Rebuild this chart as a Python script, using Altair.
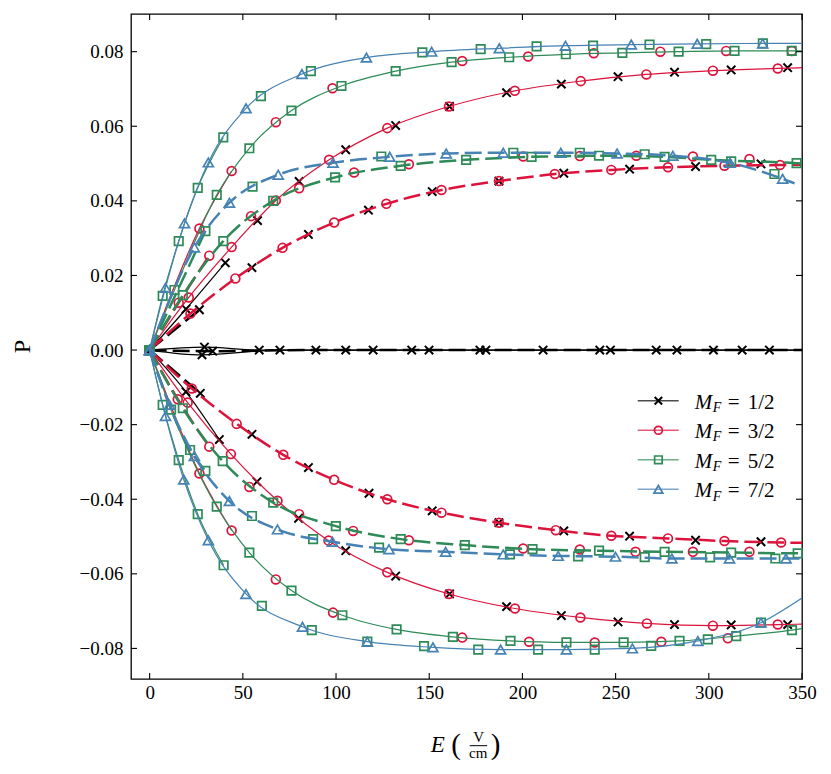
import altair as alt
import pandas as pd

# ---------------- data ----------------
MF_LABELS = ["1/2", "3/2", "5/2", "7/2"]
COLORS = ["#000000", "#DC143C", "#2E8B57", "#4682B4"]
X_TICKS = [0, 50, 100, 150, 200, 250, 300, 350]
Y_TICKS = [-0.08, -0.06, -0.04, -0.02, 0.0, 0.02, 0.04, 0.06, 0.08]

# Each list holds (E, P) marker positions; the LAST pair is only the end of the
# line at the right edge (no marker drawn there).

# M_F = 1/2 (black)
B_S1P = [(0, 0), (19.5, 0.0110), (40.6, 0.0234), (57.9, 0.0347), (80.2, 0.0452), (105.2, 0.0537),
         (132, 0.0602), (160.9, 0.0653), (191.5, 0.0690), (220.9, 0.0713), (251.3, 0.0733),
         (281.6, 0.0745), (312, 0.0751), (342.3, 0.0757), (350, 0.0758)]
B_S1N = [(0, 0), (19.5, -0.0112), (37.4, -0.0240), (57.6, -0.0353), (79.9, -0.0451), (105.2, -0.0538),
         (132, -0.0606), (160.9, -0.0654), (191.5, -0.0688), (220.9, -0.0712), (251.3, -0.0729),
         (281.6, -0.0736), (312, -0.0737), (342.3, -0.0736), (350, -0.0736)]
B_D1P = [(0, 0), (26.7, 0.0108), (54.9, 0.0221), (85.2, 0.0310), (117.4, 0.0375), (151.6, 0.0425),
         (187.4, 0.0453), (222.2, 0.0474), (257.5, 0.0485), (292.9, 0.0492), (328, 0.0499), (350, 0.0500)]
B_D1N = [(0, 0), (27.2, -0.0116), (54.9, -0.0226), (85.2, -0.0315), (117.7, -0.0384), (151.6, -0.0431),
         (187.4, -0.0463), (222.2, -0.0485), (257.5, -0.0499), (292.9, -0.0510), (328, -0.0514), (350, -0.0517)]
B_Z1 = [(0, 0), (29.4, 0.0008), (58.8, 0), (105.2, 0), (149.9, 0), (211.1, 0), (271.8, 0), (317.9, 0), (350, 0)]
B_Z2 = [(0, 0), (28.1, -0.0013), (69.9, 0), (119.9, 0), (177.2, 0), (241.5, 0), (282.9, 0), (332.5, 0), (350, 0)]
B_Z3 = [(0, 0), (33.8, -0.0003), (89.2, 0), (140.6, 0), (180.4, 0), (247.2, 0), (302.5, 0), (350, 0)]

# M_F = 3/2 (red)
R_S1P = [(0, 0), (21, 0.0141), (44, 0.0276), (67.7, 0.0401), (96.3, 0.0510), (127.5, 0.0595),
         (160.6, 0.0653), (195.9, 0.0695), (231.3, 0.0721), (266.5, 0.0739), (302.2, 0.0749),
         (337, 0.0755), (350, 0.0757)]
R_S1N = [(0, 0), (20.4, -0.0141), (43.6, -0.0279), (68.6, -0.0404), (96, -0.0511), (127.5, -0.0596),
         (160.6, -0.0654), (196, -0.0693), (231.1, -0.0717), (266.8, -0.0733), (302.2, -0.0739),
         (337, -0.0736), (350, -0.0735)]
R_S2P = [(0, 0), (26.7, 0.0326), (44, 0.0480), (67.7, 0.0611), (98.1, 0.0702), (167.7, 0.0775),
         (203.1, 0.0787), (238.3, 0.0796), (274, 0.0800), (309.3, 0.0802), (344.5, 0.0802), (350, 0.0802)]
R_S2N = [(0, 0), (26.7, -0.0331), (44, -0.0484), (67.7, -0.0615), (98.4, -0.0704), (167.7, -0.0771),
         (203.6, -0.0782), (238.8, -0.0784), (274.5, -0.0782), (310.2, -0.0773), (350, -0.0747)]
R_D1P = [(0, 0), (21.9, 0.0098), (46, 0.0192), (71.3, 0.0274), (99, 0.0342), (127, 0.0392),
         (156.6, 0.0429), (187.4, 0.0453), (217.4, 0.0472), (247.7, 0.0483), (278.1, 0.0490),
         (308.4, 0.0494), (338.2, 0.0496), (350, 0.0497)]
R_D1N = [(0, 0), (22.6, -0.0103), (46.7, -0.0198), (71.7, -0.0281), (99, -0.0348), (127.5, -0.0400),
         (156.6, -0.0436), (187.4, -0.0463), (217.9, -0.0483), (247.7, -0.0498), (278.1, -0.0505),
         (308.4, -0.0512), (338.8, -0.0516), (350, -0.0517)]
R_D2P = [(0, 0), (15.6, 0.0127), (32, 0.0253), (54.4, 0.0359), (80.2, 0.0434), (109.7, 0.0476),
         (139.1, 0.0498), (200.4, 0.0519), (230.8, 0.0520), (261.1, 0.0521), (291.5, 0.0519),
         (321.8, 0.0512), (350, 0.0503)]
R_D2N = [(0, 0), (15.1, -0.0132), (32, -0.0259), (53.5, -0.0367), (80.2, -0.0440), (109.2, -0.0485),
         (139.1, -0.0510), (200.4, -0.0532), (230.8, -0.0535), (260.7, -0.0541), (291.5, -0.0541),
         (321.8, -0.0541), (350, -0.0543)]

# M_F = 5/2 (green)
G_S2P = [(0, 0), (13.3, 0.0161), (36, 0.0416), (53.5, 0.0541), (76.1, 0.0642), (102.9, 0.0708),
         (132, 0.0748), (162, 0.0772), (192.9, 0.0785), (223.3, 0.0793), (253.6, 0.0797),
         (283.8, 0.0800), (313.8, 0.0802), (344.5, 0.0802), (350, 0.0802)]
G_S2N = [(0, 0), (11.5, -0.0160), (36, -0.0420), (53.5, -0.0543), (76.1, -0.0645), (103.4, -0.0711),
         (132.5, -0.0749), (162.7, -0.0769), (193.6, -0.0780), (223.6, -0.0784), (254.3, -0.0784),
         (284.3, -0.0780), (314.7, -0.0767), (344.6, -0.0751), (350, -0.0747)]
G_S3P = [(0, 0), (7, 0.0145), (15.6, 0.0292), (25.8, 0.0435), (39.5, 0.0570), (59.7, 0.0681),
         (86.5, 0.0748), (146.3, 0.0798), (177.6, 0.0807), (207.6, 0.0814), (237.9, 0.0816),
         (268.2, 0.0819), (298.6, 0.0820), (329, 0.0822), (350, 0.0822)]
G_S3N = [(0, 0), (7, -0.0147), (15.6, -0.0295), (25.8, -0.0440), (39.7, -0.0577), (60.2, -0.0686),
         (87, -0.0751), (116.8, -0.0782), (147.2, -0.0794), (176.3, -0.0803), (208.4, -0.0803),
         (238.8, -0.0803), (269.1, -0.0793), (299.5, -0.0776), (328, -0.0731), (350, -0.0665)]
G_D2P = [(0, 0), (17.8, 0.0147), (39.5, 0.0292), (66.3, 0.0400), (99.5, 0.0463), (134.7, 0.0494),
         (169.8, 0.0510), (204.9, 0.0518), (241.1, 0.0521), (276.3, 0.0518), (301.3, 0.0510),
         (347.1, 0.0501), (350, 0.0500)]
G_D2N = [(0, 0), (17.8, -0.0156), (39.2, -0.0298), (66.3, -0.0409), (99.9, -0.0472), (134.7, -0.0507),
         (169.1, -0.0523), (205.4, -0.0534), (241.1, -0.0538), (276.3, -0.0541), (312, -0.0543),
         (347.7, -0.0545), (350, -0.0545)]
G_D3P = [(0, 0), (29.9, 0.0319), (55.2, 0.0438), (124.3, 0.0519), (195.1, 0.0529), (230.8, 0.0529),
         (265.6, 0.0525), (312, 0.0506), (335.2, 0.0472), (346, 0.0450)]
G_D3N = [(0, 0), (21.7, -0.0268), (29.9, -0.0324), (54.9, -0.0445), (87.7, -0.0507), (123.1, -0.0530),
         (193.3, -0.0548), (229.9, -0.0553), (265.6, -0.0555), (300.7, -0.0556), (335.7, -0.0559),
         (350, -0.0559)]

# M_F = 7/2 (blue)
L_S3P = [(0, 0), (8.5, 0.0167), (18.7, 0.0340), (31.5, 0.0503), (51.7, 0.0648), (81.7, 0.0740),
         (116.3, 0.0784), (151.3, 0.0800), (187.6, 0.0809), (223.1, 0.0816), (258.4, 0.0819),
         (293.8, 0.0821), (328.9, 0.0822), (350, 0.0822)]
L_S3N = [(0, 0), (8.5, -0.0177), (18.3, -0.0347), (31.5, -0.0510), (51.7, -0.0654), (82, -0.0742),
         (116.8, -0.0782), (152, -0.0797), (188.3, -0.0803), (223.6, -0.0803), (259, -0.0800),
         (294.1, -0.0780), (328, -0.0731), (350, -0.0665)]
L_D3P = [(0, 0), (24, 0.0275), (42.8, 0.0395), (69, 0.0470), (98.4, 0.0502), (128.8, 0.0518),
         (159.1, 0.0527), (189.7, 0.0529), (220.6, 0.0529), (250.8, 0.0527), (280.7, 0.0521),
         (311.4, 0.0502), (339.6, 0.0459), (346, 0.0447)]
L_D3N = [(0, 0), (10.6, -0.0147), (24, -0.0284), (42.8, -0.0405), (68.6, -0.0481), (98.1, -0.0514),
         (128.4, -0.0534), (158.8, -0.0541), (189.7, -0.0548), (219.2, -0.0552), (249.9, -0.0554),
         (280.2, -0.0559), (311.1, -0.0559), (341.4, -0.0559), (350, -0.0559)]

# (curve, line style, covered by the next M_F's identical curve)
CURVES = [
    [(B_S1P, "solid", True), (B_S1N, "solid", True), (B_Z1, "solid", False), (B_Z2, "solid", False),
     (B_D1P, "dashed", True), (B_D1N, "dashed", True), (B_Z3, "dashed", False)],
    [(R_S1P, "solid", False), (R_S1N, "solid", False), (R_S2P, "solid", True), (R_S2N, "solid", True),
     (R_D1P, "dashed", False), (R_D1N, "dashed", False), (R_D2P, "dashed", True), (R_D2N, "dashed", True)],
    [(G_S2P, "solid", False), (G_S2N, "solid", False), (G_S3P, "solid", True), (G_S3N, "solid", True),
     (G_D2P, "dashed", False), (G_D2N, "dashed", False), (G_D3P, "dashed", True), (G_D3N, "dashed", True)],
    [(L_S3P, "solid", False), (L_S3N, "solid", False), (L_D3P, "dashed", False), (L_D3N, "dashed", False)],
]
COVER_CUT = 45   # a covered curve's own line is only visible near the origin

# ---------------- styling ----------------
FONT = "Liberation Serif"
W, H = 671, 665
OX, OY = 131.3, 14.0          # page position of the plot area (for the text placement)
X_DOM = [-10, 350]
Y_DOM = [-0.0882, 0.0901]

SHAPES = ["M-1,-1L1,1M-1,1L1,-1", "circle", "square", "triangle-up"]
SIZES = [70, 78, 72, 100]
MSW = [2.0, 1.7, 1.7, 1.7]

x_enc = alt.X("E:Q", scale=alt.Scale(domain=X_DOM, nice=False, zero=False),
              axis=alt.Axis(values=X_TICKS, title=None, format="d", labelPadding=4, labelFlush=False))
y_enc = alt.Y("P:Q", scale=alt.Scale(domain=Y_DOM, nice=False, zero=False),
              axis=alt.Axis(values=Y_TICKS, title=None, format=".2f", labelPadding=8, labelFlush=False))


def line_df(pts, cid, covered):
    rows = [{"E": e, "P": p, "curve": cid} for (e, p) in pts if (not covered or e <= COVER_CUT)]
    return pd.DataFrame(rows)


def mark_df(pts, cid):
    return pd.DataFrame([{"E": e, "P": p, "curve": cid} for (e, p) in pts[:-1]])


layers = []
for ci, group in enumerate(CURVES):
    col = COLORS[ci]
    solid = pd.concat([line_df(p, f"{ci}-{j}", c) for j, (p, s, c) in enumerate(group) if s == "solid"])
    dashed = pd.concat([line_df(p, f"{ci}-{j}", c) for j, (p, s, c) in enumerate(group) if s == "dashed"])
    marks = pd.concat([mark_df(p, f"{ci}-{j}") for j, (p, s, c) in enumerate(group)])
    layers.append(alt.Chart(solid).mark_line(interpolate="monotone", color=col, strokeWidth=1.2,
                                             opacity=1, clip=True)
                  .encode(x=x_enc, y=y_enc, detail="curve:N", order="E:Q"))
    layers.append(alt.Chart(dashed).mark_line(interpolate="monotone", color=col, strokeWidth=2.5,
                                              strokeDash=[17, 6], opacity=1, clip=True)
                  .encode(x=x_enc, y=y_enc, detail="curve:N", order="E:Q"))
    layers.append(alt.Chart(marks).mark_point(shape=SHAPES[ci], filled=False, size=SIZES[ci],
                                              strokeWidth=MSW[ci], color=col, opacity=1)
                  .encode(x=x_enc, y=y_enc))

# inward ticks on all four sides
xt = pd.DataFrame({"E": X_TICKS})
yt = pd.DataFrame({"P": Y_TICKS})
layers.append(alt.Chart(xt).mark_rule(color="black", strokeWidth=1.1)
              .encode(x=x_enc, y=alt.value(H), y2=alt.value(H - 6)))
layers.append(alt.Chart(xt).mark_rule(color="black", strokeWidth=1.1)
              .encode(x=x_enc, y=alt.value(0), y2=alt.value(6)))
layers.append(alt.Chart(yt).mark_rule(color="black", strokeWidth=1.1)
              .encode(y=y_enc, x=alt.value(0), x2=alt.value(6)))
layers.append(alt.Chart(yt).mark_rule(color="black", strokeWidth=1.1)
              .encode(y=y_enc, x=alt.value(W), x2=alt.value(W - 6)))

# legend (drawn by hand so the subscript can be shown)
for i, lab in enumerate(MF_LABELS):
    ry = 400.7 - OY + i * 29.55
    one = pd.DataFrame({"lab": [lab]})
    layers.append(alt.Chart(one).mark_rule(color=COLORS[i], strokeWidth=1.5, opacity=0.7)
                  .encode(x=alt.value(638 - OX), x2=alt.value(679 - OX), y=alt.value(ry)))
    layers.append(alt.Chart(one).mark_point(shape=SHAPES[i], filled=False, size=SIZES[i] * 0.8,
                                            strokeWidth=MSW[i], color=COLORS[i], opacity=1)
                  .encode(x=alt.value(658.7 - OX), y=alt.value(ry)))
    layers.append(alt.Chart(one).mark_text(align="left", baseline="alphabetic", font=FONT, fontSize=21,
                                           fontStyle="italic", color="black")
                  .encode(x=alt.value(695 - OX), y=alt.value(ry + 7.8), text=alt.value("M")))
    layers.append(alt.Chart(one).mark_text(align="left", baseline="alphabetic", font=FONT, fontSize=14,
                                           fontStyle="italic", color="black")
                  .encode(x=alt.value(713 - OX), y=alt.value(ry + 11.2), text=alt.value("F")))
    layers.append(alt.Chart(one).mark_text(align="left", baseline="alphabetic", font=FONT, fontSize=21,
                                           color="black")
                  .encode(x=alt.value(728 - OX), y=alt.value(ry + 7.8), text=alt.value("=")))
    layers.append(alt.Chart(one).mark_text(align="left", baseline="alphabetic", font=FONT, fontSize=21,
                                           color="black")
                  .encode(x=alt.value(748 - OX), y=alt.value(ry + 7.8), text="lab:N"))

# axis titles
t = pd.DataFrame({"k": [0]})


def txt(s, px, py, size, style="normal", align="center", baseline="alphabetic", angle=0):
    kw = dict(align=align, baseline=baseline, font=FONT, fontSize=size, color="black", fontStyle=style)
    if angle:
        kw["angle"] = angle
    return alt.Chart(t).mark_text(**kw).encode(x=alt.value(px - OX), y=alt.value(py - OY), text=alt.value(s))


layers.append(txt("E", 438, 751.7, 23, style="italic"))
layers.append(txt("(", 456.5, 745, 29, baseline="middle"))
layers.append(txt("V", 479, 741.7, 15))
layers.append(txt("cm", 478.5, 758, 15))
layers.append(txt(")", 496, 745, 29, baseline="middle"))
layers.append(alt.Chart(t).mark_rule(color="black", strokeWidth=1)
              .encode(x=alt.value(470 - OX), x2=alt.value(487.5 - OX), y=alt.value(745.7 - OY)))
layers.append(txt("P", 23.5, 346.5, 24, baseline="middle", angle=270))

chart = (alt.layer(*layers)
         .properties(width=W, height=H, autosize=alt.AutoSizeParams(type="none"),
                     padding={"left": 123, "top": 6, "right": 20, "bottom": 92})
         .configure_view(stroke="#000000", strokeWidth=1.3)
         .configure_axis(labelFont=FONT, labelFontSize=19, labelColor="#000000", ticks=False,
                         tickSize=0, domain=False, grid=False))

chart.save("out.html", embed_options={"renderer": "svg", "actions": False})
